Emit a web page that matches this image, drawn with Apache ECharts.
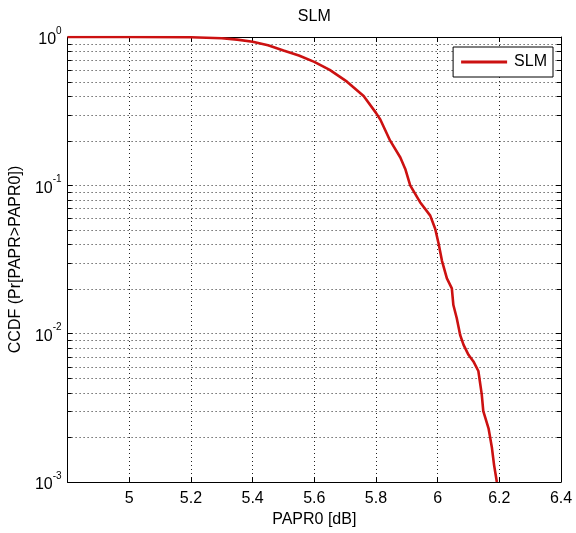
<!DOCTYPE html>
<html>
<head>
<meta charset="utf-8">
<script src="https://cdn.jsdelivr.net/npm/echarts@6/dist/echarts.min.js"></script>
<style>
html,body{margin:0;padding:0;background:#fff;}
#chart{width:576px;height:533px;}
</style>
</head>
<body>
<div id="chart"></div>
<script>
// Data (PAPR0 in dB, CCDF)
const paprDb = [4.8, 5.0, 5.2, 5.3, 5.35, 5.4, 5.45, 5.5, 5.55, 5.6, 5.65, 5.706, 5.76, 5.8, 5.814, 5.846, 5.879, 5.895, 5.911, 5.943, 5.976, 5.992, 6.003, 6.014, 6.03, 6.046, 6.051, 6.062, 6.073, 6.084, 6.1, 6.116, 6.132, 6.143, 6.148, 6.165, 6.176, 6.183, 6.192];
const ccdf = [1.0, 1.0, 0.995, 0.98, 0.96, 0.93, 0.88, 0.81, 0.75, 0.68, 0.60, 0.5, 0.4, 0.308, 0.278, 0.2, 0.154, 0.129, 0.1, 0.077, 0.0625, 0.051, 0.0405, 0.031, 0.0236, 0.0202, 0.0156, 0.0127, 0.0098, 0.0084, 0.0072, 0.0065, 0.0056, 0.0039, 0.003, 0.0023, 0.0017, 0.0013, 0.001];
const xTicks = [5, 5.2, 5.4, 5.6, 5.8, 6, 6.2, 6.4];
const yMinorTicks = [0.002,0.003,0.004,0.005,0.006,0.007,0.008,0.009,0.02,0.03,0.04,0.05,0.06,0.07,0.08,0.09,0.2,0.3,0.4,0.5,0.6,0.7,0.8,0.9];
const seriesName = 'SLM';
const titleText = 'SLM';
const xName = 'PAPR0 [dB]';
const yName = 'CCDF (Pr[PAPR>PAPR0])';

const FONT = "'Liberation Sans', Arial, sans-serif";
const FS = 16;
const dotted = {color:'#222', width:1, type:[1,3]};

const chart = echarts.init(document.getElementById('chart'), null, {renderer:'canvas'});
const lineData = paprDb.map((x,i)=>[x, ccdf[i]]);
const supLabel = v => {
  const e = Math.round(Math.log10(v));
  return '{b|10}{s|' + e + '}';
};
const richSup = {
  b:{fontSize:FS, fontFamily:FONT, color:'#000', lineHeight:22, verticalAlign:'bottom'},
  s:{fontSize:10, fontFamily:FONT, color:'#000', lineHeight:10, verticalAlign:'top'}
};

chart.setOption({
  backgroundColor:'#fff',
  animation:false,
  grid:{left:67, right:15, top:37, bottom:48, containLabel:false},
  legend:{
    data:[seriesName], right:23, top:47, orient:'vertical',
    backgroundColor:'#fff', borderColor:'#000', borderWidth:1, borderRadius:0,
    padding:[7,6,7,8], icon:'rect', itemWidth:46, itemHeight:3, itemGap:0,
    textStyle:{fontFamily:FONT, fontSize:FS, color:'#000', padding:[0,0,0,2]}
  },
  xAxis:[{
    type:'value', min:4.8, max:6.4, interval:0.2,
    name:xName, nameLocation:'middle', nameGap:30,
    nameTextStyle:{fontFamily:FONT, fontSize:FS, color:'#000'},
    axisLine:{show:true, onZero:false, lineStyle:{color:'#000', width:1}},
    axisTick:{show:true, inside:true, length:5, lineStyle:{color:'#000'}},
    axisLabel:{fontFamily:FONT, fontSize:FS, color:'#000', margin:9,
      formatter:v => (Math.abs(v-4.8)<1e-9 ? '' : String(+v.toFixed(1)))},
    splitLine:{show:true, lineStyle:dotted}
  },{
    type:'value', min:4.8, max:6.4, interval:0.2, position:'top',
    name:titleText, nameLocation:'middle', nameGap:12,
    nameTextStyle:{fontFamily:FONT, fontSize:FS, color:'#000'},
    axisLine:{show:true, onZero:false, lineStyle:{color:'#000', width:1}},
    axisTick:{show:true, inside:true, length:5, lineStyle:{color:'#000'}},
    axisLabel:{show:false}, splitLine:{show:false}
  }],
  yAxis:[{
    type:'log', logBase:10, min:0.001, max:1,
    name:yName, nameLocation:'middle', nameGap:30,
    nameTextStyle:{fontFamily:FONT, fontSize:FS, color:'#000'},
    axisLine:{show:true, onZero:false, lineStyle:{color:'#000', width:1}},
    axisTick:{show:true, inside:true, length:5, lineStyle:{color:'#000'}},
    axisLabel:{margin:6, formatter:supLabel, rich:richSup},
    splitLine:{show:true, lineStyle:dotted}
  },{
    type:'log', logBase:10, min:0.001, max:1, position:'right',
    axisLine:{show:true, onZero:false, lineStyle:{color:'#000', width:1}},
    axisTick:{show:true, inside:true, length:5, lineStyle:{color:'#000'}},
    axisLabel:{show:false}, splitLine:{show:false}
  }],
  series:[{
    name:'minor', type:'custom', xAxisIndex:0, yAxisIndex:0, silent:true, z:1,
    data:yMinorTicks.map(v=>[4.8, v]),
    renderItem:function(params, api){
      const cs = params.coordSys;
      const y = Math.round(api.coord([api.value(0), api.value(1)])[1]) + 0.5;
      const l = cs.x, r = cs.x + cs.width;
      return {type:'group', children:[
        {type:'line', shape:{x1:l, y1:y, x2:r, y2:y}, style:{stroke:'#222', lineWidth:1, lineDash:[1,3]}},
        {type:'line', shape:{x1:l, y1:y, x2:l+4, y2:y}, style:{stroke:'#000', lineWidth:1}},
        {type:'line', shape:{x1:r-4, y1:y, x2:r, y2:y}, style:{stroke:'#000', lineWidth:1}}
      ]};
    }
  },{
    name:seriesName, type:'line', xAxisIndex:0, yAxisIndex:0,
    data:lineData, showSymbol:false, symbol:'none', z:5,
    lineStyle:{color:'#cc1111', width:2.6}, itemStyle:{color:'#cc1111'}
  }]
});
</script>
</body>
</html>
